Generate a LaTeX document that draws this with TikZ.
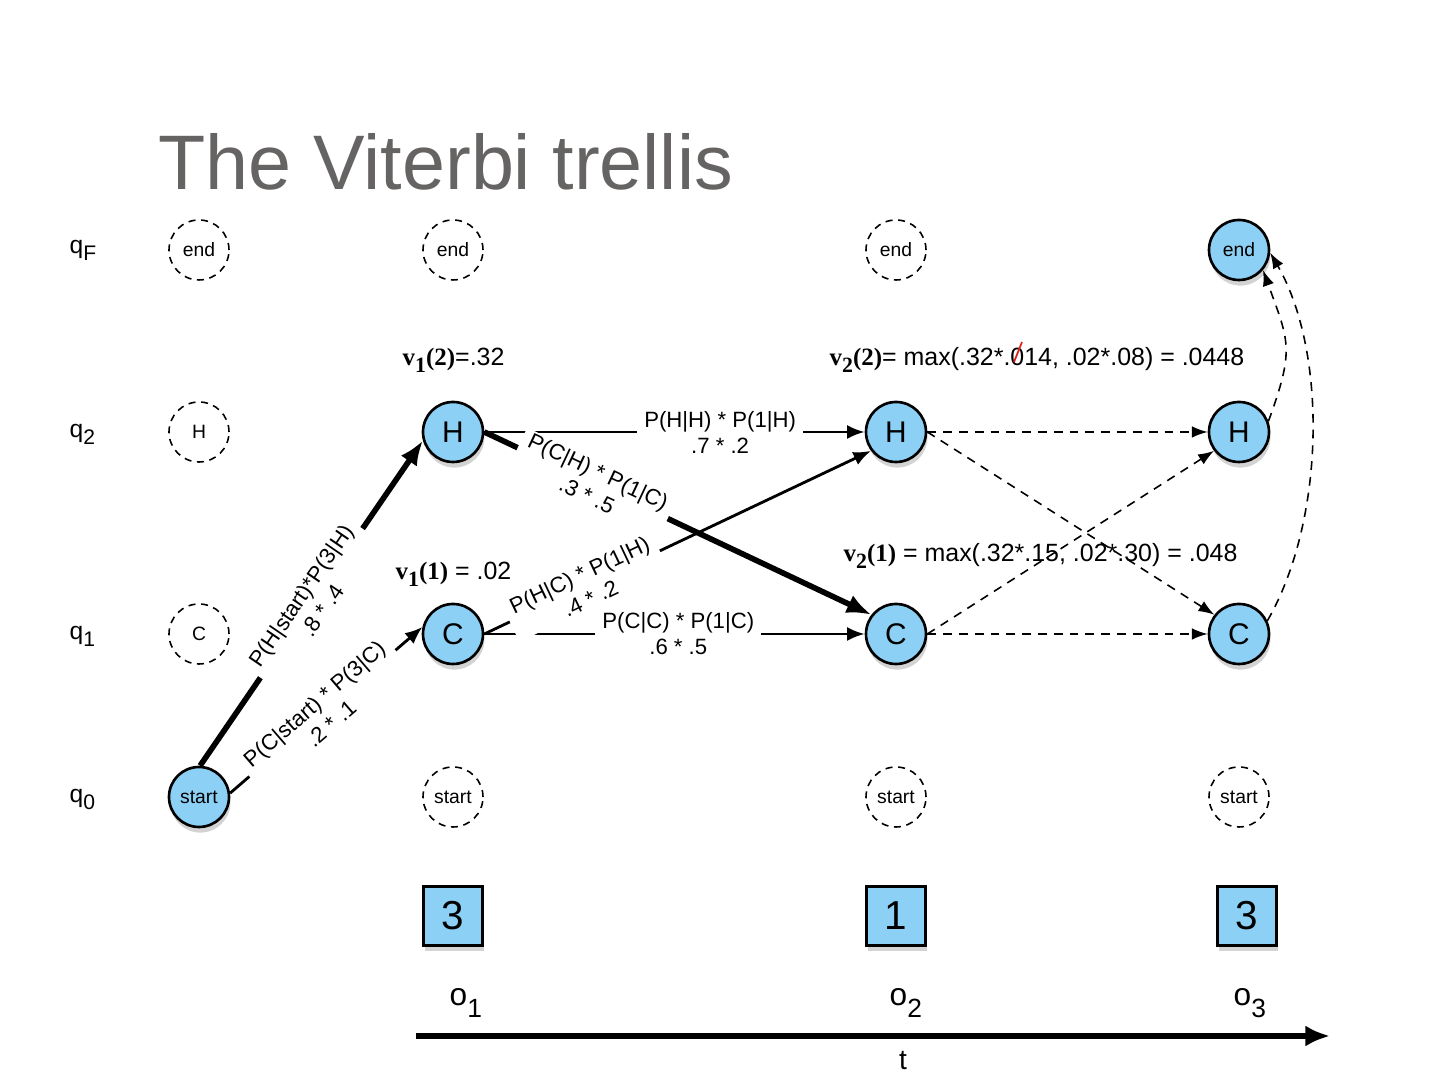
\documentclass[tikz,border=0pt]{standalone}
\usepackage{fontspec}
\setmainfont{Liberation Sans}
\newfontfamily\vfont{Liberation Serif}
\usetikzlibrary{arrows.meta,shadows}
\definecolor{stfill}{RGB}{141,208,245}
\definecolor{titlegray}{RGB}{102,99,99}
\definecolor{markred}{RGB}{225,30,30}
\newcommand\vsub[1]{\raisebox{-0.6ex}{\fontsize{6.2}{6.2}\selectfont#1}}
\newcommand\vname[2]{{\vfont\bfseries v\vsub{#1}(#2)}}

\begin{document}
\begin{tikzpicture}[font=\fontsize{6.3}{7.4}\selectfont]
\tikzset{
  ST/.style={circle,draw,line width=0.75pt,fill=stfill,minimum size=0.6cm,inner sep=0pt,drop shadow={opacity=0.35,shadow xshift=0.4pt,shadow yshift=-1.6pt},font=\fontsize{8.5}{10}\selectfont},
  GH/.style={circle,draw,line width=0.45pt,dash pattern=on 2pt off 1.6pt,minimum size=0.6cm,inner sep=0pt,font=\fontsize{5.5}{6.5}\selectfont},
  SM/.style={font=\fontsize{5.5}{6.5}\selectfont},
  OB/.style={rectangle,draw,line width=0.75pt,fill=stfill,minimum size=0.59cm,inner sep=0pt,drop shadow={opacity=0.35,shadow xshift=0.4pt,shadow yshift=-1.6pt},font=\fontsize{11.5}{14}\selectfont},
  RW/.style={anchor=base west,inner sep=0pt,font=\fontsize{7}{8}\selectfont},
  VT/.style={anchor=base west,inner sep=0pt,font=\fontsize{7.1}{8}\selectfont},
  TR/.style={-{Latex[length=5pt,width=4pt]},line width=0.8pt},
  BP/.style={-{Latex[length=7pt,width=5.5pt]},line width=1.6pt},
  DT/.style={-{Latex[length=4.5pt,width=3.3pt]},line width=0.45pt,dash pattern=on 2.5pt off 2pt},
  lb/.style={fill=white,inner xsep=2pt,inner ysep=0.3pt,align=center},
}
\useasboundingbox (0,0) rectangle (14.4,10.8);

\node[anchor=base west,inner sep=0pt,text=titlegray,font=\fontsize{22}{24}\selectfont](title) at (1.58,8.90){The Viterbi trellis};

\node[RW](qF) at (0.69,8.26){q\raisebox{-0.5ex}{\fontsize{6}{6}\selectfont F}};
\node[RW](q2) at (0.69,6.42){q\raisebox{-0.5ex}{\fontsize{6}{6}\selectfont 2}};
\node[RW](q1) at (0.69,4.40){q\raisebox{-0.5ex}{\fontsize{6}{6}\selectfont 1}};
\node[RW](q0) at (0.69,2.77){q\raisebox{-0.5ex}{\fontsize{6}{6}\selectfont 0}};

\node[GH](e0) at ( 1.99,8.30){end};
\node[GH](h0) at ( 1.99,6.48){H};
\node[GH](c0) at ( 1.99,4.46){C};
\node[ST,SM](s0) at ( 1.99,2.83){start};

\node[GH](e1) at ( 4.53,8.30){end};
\node[ST](h1) at ( 4.53,6.48){H};
\node[ST](c1) at ( 4.53,4.46){C};
\node[GH](s1) at ( 4.53,2.83){start};

\node[GH](e2) at ( 8.96,8.30){end};
\node[ST](h2) at ( 8.96,6.48){H};
\node[ST](c2) at ( 8.96,4.46){C};
\node[GH](s2) at ( 8.96,2.83){start};

\node[ST,SM](e3) at (12.39,8.30){end};
\node[ST](h3) at (12.39,6.48){H};
\node[ST](c3) at (12.39,4.46){C};
\node[GH](s3) at (12.39,2.83){start};

\node[OB](ob1) at ( 4.53,1.64){3};
\node[OB](ob2) at ( 8.96,1.64){1};
\node[OB](ob3) at (12.47,1.64){3};

\node[anchor=base west,inner sep=0pt,font=\fontsize{9}{10}\selectfont](o1) at ( 4.49,0.74){o\raisebox{-0.7ex}{\fontsize{7.5}{8}\selectfont 1}};
\node[anchor=base west,inner sep=0pt,font=\fontsize{9}{10}\selectfont](o2) at ( 8.89,0.74){o\raisebox{-0.7ex}{\fontsize{7.5}{8}\selectfont 2}};
\node[anchor=base west,inner sep=0pt,font=\fontsize{9}{10}\selectfont](o3) at (12.33,0.74){o\raisebox{-0.7ex}{\fontsize{7.5}{8}\selectfont 3}};

\coordinate(t0) at ( 4.16,0.44);
\coordinate(t1) at (13.30,0.44);
\draw[-{Latex[length=7pt,width=6pt]},line width=1.5pt](t0)--(t1);
\node[anchor=base,inner sep=0pt,font=\fontsize{8}{9}\selectfont](tl) at (9.03,0.10){t};

\node[VT](v12) at (4.02,7.14){\vname{1}{2}=.32};
\node[VT](v11) at (3.95,5.00){\vname{1}{1} = .02};
\node[VT](v22) at (8.29,7.14){\vname{2}{2}= max(.32*.014, .02*.08) = .0448};
\node[VT](v21) at (8.43,5.18){\vname{2}{1} = max(.32*.15, .02*.30) = .048};
\draw[markred,line width=0.5pt](10.14,7.18)--(10.22,7.38);

\draw[TR](c1)--node[lb,pos=.51]{P(C|C) * P(1|C)\\.6 * .5}(c2);
\draw[TR](h1)--node[lb,pos=.62]{P(H|H) * P(1|H)\\.7 * .2}(h2);
\draw[TR](c1.east)--node[lb,sloped,pos=.26]{P(H|C) * P(1|H)\\.4 * .2}(h2.-143);
\draw[BP](h1.east)--node[lb,sloped,pos=.28]{P(C|H) * P(1|C)\\.3 * .5}(c2.142);

\draw[BP](s0.88)--node[lb,sloped,pos=.50]{P(H|start)*P(3|H)\\.8 * .4}(h1.196);
\draw[TR](s0.7)--node[lb,sloped,pos=.48]{P(C|start) * P(3|C)\\.2 * .1}(c1.167);

\draw[DT](h2)--(h3);
\draw[DT](h2.east)--(c3.142);
\draw[DT](c2.east)--(h3.-143);
\draw[DT](c2)--(c3);
\draw[DT](h3.20) to[out=70,in=-70,looseness=1.3](e3.-40);
\draw[DT](c3.25) to[out=60,in=-60,looseness=0.8](e3.-5);

\end{tikzpicture}
\end{document}
